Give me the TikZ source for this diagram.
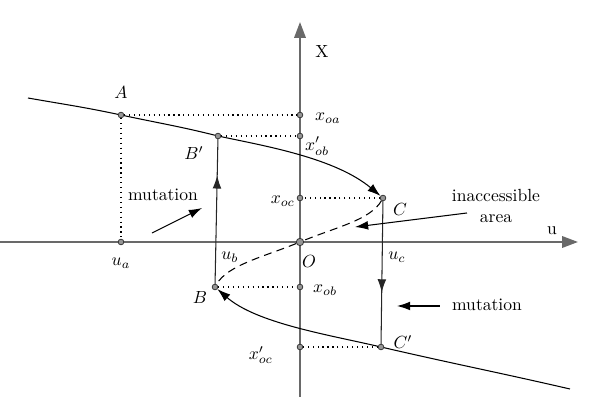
\documentclass[tikz,border=0pt]{standalone}
\usetikzlibrary{arrows.meta, positioning, decorations.markings}
\definecolor{axis_gray}{RGB}{105,105,105}
\definecolor{dot_gray}{RGB}{150,150,150}

\begin{document}
\begin{tikzpicture}[
    x=0.02cm, y=0.02cm,
    % Node styles
    pt/.style={
        circle,
        draw=black!80,
        fill=dot_gray,
        line width=0.45pt,
        inner sep=0pt,
        minimum size=#1
    },
    pt/.default=3.2pt,
    lbl/.style={
        inner sep=1pt,
        font = \normalsize
    },
    axis/.style={
        -{Triangle[length=9pt,width=6.5pt]},
        line width=1.1pt,
        draw=axis_gray
    },
    branch/.style={
        line width=0.6pt,
        #1
    },
    arrow/.style={
        -{Latex[length=7.5pt,width=5pt]},
        line width=0.6pt,
        #1
    },
    jump/.style={
        line width=0.6pt,
        draw=black!85,
        postaction={decorate},
        decoration={markings, mark=at position #1 with {\arrow{Latex[length=7.5pt,width=5pt]}}}
    },
    guide/.style={
        dash pattern=on 0.7pt off 2.1pt,
        line width=0.7pt
    }
]
\useasboundingbox (-300,-177) rectangle (300,242);

% axes
\coordinate (xbot) at (0,-155);
\coordinate (xtip) at (0,220);
\coordinate (uleft) at (-300,0);
\coordinate (utip) at (278,0);
\draw[axis] (xbot) -- (xtip);
\draw[axis] (uleft) -- (utip);

% Position nodes
\coordinate (start) at (-272,144);
\coordinate (end) at (270,-147);
\node[pt] (A) at (-179,127) {};
\node[pt] (Bp) at (-82,106) {};
\node[pt] (C) at (83,44) {};
\node[pt] (B) at (-85,-45) {};
\node[pt] (Cp) at (81,-105) {};
\node[pt=4.2pt] (O) at (0,0) {};
\node[pt] (ua) at (-179,0) {};
\node[pt] (xoa) at (0,127) {};
\node[pt] (xobp) at (0,106) {};
\node[pt] (xoc) at (0,44) {};
\node[pt] (xob) at (0,-45) {};
\node[pt] (xocp) at (0,-105) {};

% labels
\node[lbl] (lblA) at (-179,150) {$A$};
\node[lbl] (lblBp) at (-106,89) {$B'$};
\node[lbl] (lblC) at (100,32) {$C$};
\node[lbl] (lblCp) at (103,-100) {$C'$};
\node[lbl] (lblB) at (-100,-56) {$B$};
\node[lbl] (lblO) at (9,-20) {$O$};
\node[lbl, anchor=west] (lblxoa) at (13,124) {$x_{oa}$};
\node[lbl, anchor=west] (lblxobp) at (3,96) {$x'_{ob}$};
\node[lbl, anchor=east] (lblxoc) at (-3,41) {$x_{oc}$};
\node[lbl, anchor=west] (lblxob) at (11,-48) {$x_{ob}$};
\node[lbl, anchor=east] (lblxocp) at (-25,-113) {$x'_{oc}$};
\node[lbl] (lblua) at (-179,-21) {$u_a$};
\node[lbl] (lblub) at (-70,-15) {$u_b$};
\node[lbl] (lbluc) at (97,-15) {$u_c$};
\node[lbl] (lblX) at (22,190) {X};
\node[lbl] (lblu) at (252,11) {u};

\node[lbl] (mutleft) at (-137,47) {mutation};
\node[lbl] (mutright) at (187,-63) {mutation};
\node[lbl, align=center] (inacc) at (196,36) {inaccessible\\area};

% draw branches
\draw[branch=black] (start) to[out=-10, in=168] (A) to[out=-12, in=166] (Bp);
\draw[arrow=black] (Bp) .. controls (-35,96) and (35,84) .. (C);
\draw[branch=black, dash pattern=on 4.5pt off 3pt] (C) .. controls (70.5,22.3) and (37,15) .. (O)
    .. controls (-37,-15) and (-72.5,-23.3) .. (B);
\draw[arrow=black] (Cp) .. controls (27.4,-92.6) and (-43.5,-81.1) .. (B);
\draw[branch=black] (Cp) to[out=-13, in=167] (end);

% jumps
\draw[jump=0.75] (B) -- (Bp);
\draw[jump=0.64] (C) -- (Cp);

% dotted guides
\draw[guide] (A) -- (xoa);
\draw[guide] (A) -- (ua);
\draw[guide] (Bp) -- (xobp);
\draw[guide] (C) -- (xoc);
\draw[guide] (B) -- (xob);
\draw[guide] (Cp) -- (xocp);

% pointer arrows
\coordinate (mlfrom) at (-148,9);
\coordinate (mlto) at (-98,34);
\coordinate (mrfrom) at (140,-64);
\coordinate (mrto) at (97,-64);
\coordinate (iafrom) at (167,29);
\coordinate (iato) at (55,15);
\draw[arrow=black] (mlfrom) -- (mlto);
\draw[arrow=black] (mrfrom) -- (mrto);
\draw[arrow=black] (iafrom) -- (iato);

\end{tikzpicture}
\end{document}
